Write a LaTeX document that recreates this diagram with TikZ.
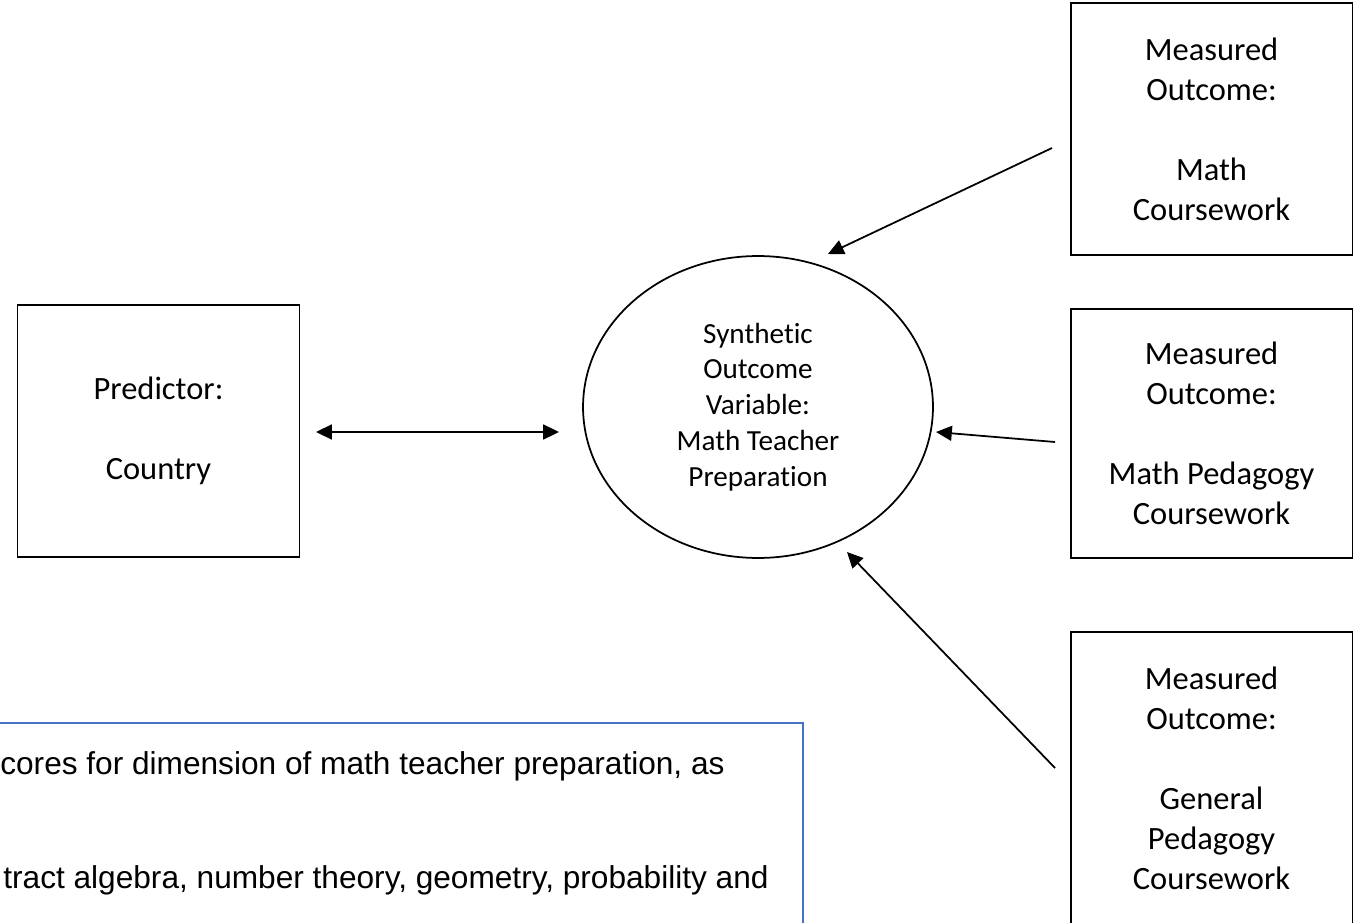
\documentclass[tikz,border=0pt]{standalone}
\usepackage{fontspec}
\setmainfont{Carlito}[Ligatures=NoCommon]
\newfontfamily\notefont{Liberation Sans}
\definecolor{noteBlue}{HTML}{4472C4}
\usetikzlibrary{arrows.meta, positioning, shapes.geometric}

\begin{document}
\begin{tikzpicture}[x=0.02cm, y=-0.02cm,
  >={Triangle[length=9pt, width=8.5pt]},
  measure/.style={draw, line width=1.1pt, minimum width=5.64cm,
    align=center, inner sep=0pt, font=\fontsize{18.5}{22.8}\selectfont},
  latent/.style={draw, ellipse, line width=1pt, minimum width=7cm,
    minimum height=6.04cm, inner sep=0pt, align=center,
    font=\fontsize{16.6}{20.4}\selectfont},
  note/.style={anchor=base west, inner sep=0pt,
    font=\notefont\fontsize{18}{22}\selectfont},
  link/.style={line width=1pt, ->}]
  \useasboundingbox (0,0) rectangle (1354,922);
  \clip (0,0) rectangle (1354,922);
  % variables
  \node[measure, minimum height=5.04cm] (pred) at (158.5,431)
    {Predictor:\\[22.8pt]Country};
  \node[latent] (syn) at (758,407)
    {Synthetic\\Outcome\\Variable:\\Math Teacher\\Preparation};
  \node[measure, minimum height=5.04cm] (mathcw) at (1211.5,129)
    {Measured\\Outcome:\\[22.8pt]Math\\Coursework};
  \node[measure, minimum height=4.98cm] (mathped) at (1211.5,433.5)
    {Measured\\Outcome:\\[22.8pt]Math Pedagogy\\Coursework};
  \node[measure, minimum height=5.84cm] (genped) at (1211.5,778)
    {Measured\\Outcome:\\[22.8pt]General\\Pedagogy\\Coursework};
  % note box, cut by the page
  \draw[noteBlue, line width=1.2pt] (-20,723) rectangle (803,980);
  \node[note] (note1) at (0,774)
    {cores for dimension of math teacher preparation, as};
  \node[note] (note2) at (3,888)
    {tract algebra, number theory, geometry, probability and};
  % arrow ends
  \coordinate (predR) at (316,432);
  \coordinate (synL) at (559,432);
  \coordinate (mathcwOut) at (1052,148);
  \coordinate (synTR) at (828,254);
  \coordinate (mathpedOut) at (1055,442);
  \coordinate (synR) at (936,432);
  \coordinate (genpedOut) at (1055,768);
  \coordinate (synBR) at (847,552);
  \draw[link, <->] (predR) -- (synL);
  \draw[link] (mathcwOut) -- (synTR);
  \draw[link] (mathpedOut) -- (synR);
  \draw[link] (genpedOut) -- (synBR);
\end{tikzpicture}
\end{document}
